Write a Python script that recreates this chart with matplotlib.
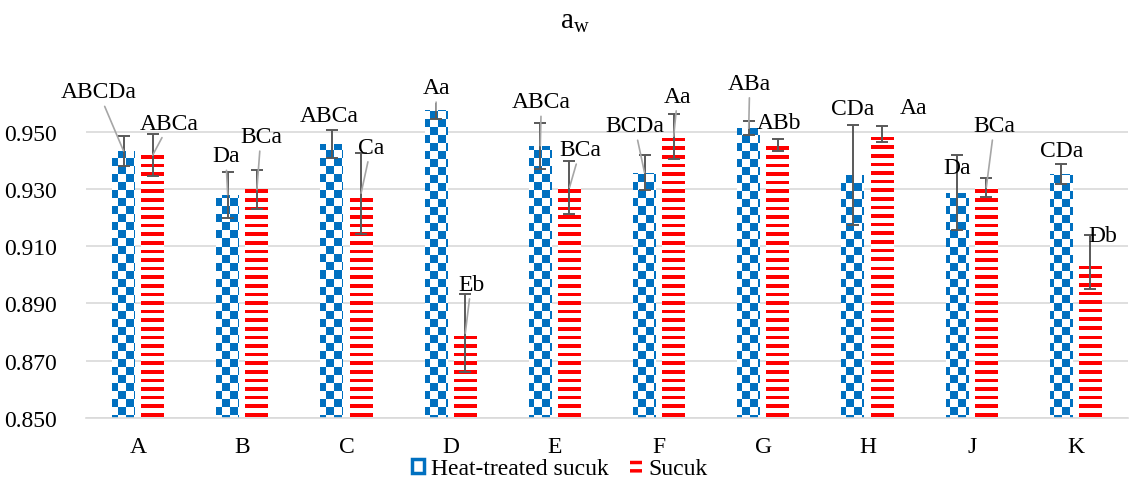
import numpy as np
import matplotlib
matplotlib.use("Agg")
import matplotlib.pyplot as plt
from matplotlib.patches import Patch

plt.rcParams['font.family'] = ['Liberation Serif', 'DejaVu Serif']
plt.rcParams['mathtext.fontset'] = 'custom'
plt.rcParams['mathtext.rm'] = 'Liberation Serif'
plt.rcParams['mathtext.it'] = 'Liberation Serif'

# data
categories = ['A', 'B', 'C', 'D', 'E', 'F', 'G', 'H', 'J', 'K']
heat = [0.9433, 0.9280, 0.9457, 0.9574, 0.9451, 0.9357, 0.9512, 0.9348, 0.9287, 0.9352]
heat_err = [0.0052, 0.0080, 0.0050, 0.0030, 0.0080, 0.0060, 0.0024, 0.0175, 0.0132, 0.0035]
sucuk = [0.9418, 0.9298, 0.9285, 0.8796, 0.9305, 0.9484, 0.9453, 0.9492, 0.9305, 0.9045]
sucuk_err = [0.0073, 0.0068, 0.0142, 0.0137, 0.0093, 0.0078, 0.0021, 0.0027, 0.0032, 0.0094]
heat_labels = ['ABCDa', 'Da', 'ABCa', 'Aa', 'ABCa', 'BCDa', 'ABa', 'CDa', 'Da', 'CDa']
sucuk_labels = ['ABCa', 'BCa', 'Ca', 'Eb', 'BCa', 'Aa', 'ABb', 'Aa', 'BCa', 'Db']

# label placement (pixel offsets from bar top) and leader line flags
heat_off = [(-25, 59), (-2, 39), (-3, 28), (0, 23), (1, 44), (-10, 47), (1, 45), (0, 67), (0, 25), (0, 24)]
sucuk_off = [(17, 32), (4, 53), (10, 46), (6, 49), (11, 38), (4, 40), (1, 23), (31, 26), (8, 62), (12, 26)]
heat_lead = [1, 1, 0, 1, 1, 1, 1, 0, 0, 0]
sucuk_lead = [1, 1, 1, 1, 1, 1, 0, 0, 1, 0]

blue = '#0070C0'
red = '#FF0000'

W, H = 1129, 485
fig = plt.figure(figsize=(W / 100, H / 100), dpi=100)
ax = fig.add_axes([86 / W, 1 - 419 / H, 1042 / W, 315 / H])

x = np.arange(len(categories))
bw = 0.22
off = 0.14

hb = ax.bar(x - off, np.array(heat) - 0.85, bw, bottom=0.85, facecolor='none', edgecolor='none', zorder=2)
sb = ax.bar(x + off, np.array(sucuk) - 0.85, bw, bottom=0.85, facecolor='none', edgecolor='none', zorder=2)

# pattern textures in axes pixel space
aw, ah = 1042, 315
yy, xx = np.mgrid[0:ah, 0:aw]
chk = ((yy // 8) + (xx // 8)) % 2 == 0
checker = np.ones((ah, aw, 3))
checker[chk] = np.array([0, 112, 192]) / 255
stp = (yy % 8.6) < 3.5
stripes = np.ones((ah, aw, 3))
stripes[stp] = np.array([1.0, 0, 0])

for bars, tex in [(hb, checker), (sb, stripes)]:
    for b in bars:
        im = ax.imshow(tex, extent=[0, 1, 0, 1], transform=ax.transAxes,
                       interpolation='nearest', aspect='auto', zorder=2)
        im.set_clip_path(b)

ax.errorbar(x - off, heat, yerr=heat_err, fmt='none', ecolor='#595959',
            elinewidth=1.4, capsize=4, capthick=1.4, zorder=4)
ax.errorbar(x + off, sucuk, yerr=sucuk_err, fmt='none', ecolor='#595959',
            elinewidth=1.4, capsize=4, capthick=1.4, zorder=4)

for xs, vals, labs, offs, leads in [(x - off, heat, heat_labels, heat_off, heat_lead),
                                     (x + off, sucuk, sucuk_labels, sucuk_off, sucuk_lead)]:
    for xi, v, lab, (dx, dy), ld in zip(xs, vals, labs, offs, leads):
        ap = dict(arrowstyle='-', color='#a6a6a6', lw=1.2, shrinkA=1, shrinkB=0) if ld else None
        ax.annotate(lab, xy=(xi, v), xytext=(dx, dy), textcoords='offset pixels',
                    ha='center', va='center', fontsize=17, color='#000000',
                    arrowprops=ap, annotation_clip=False, zorder=5)

ax.set_xlim(-0.5, len(categories) - 0.5)
ax.set_ylim(0.85, 0.96)
ax.set_yticks(np.arange(0.85, 0.951, 0.02))
ax.set_yticklabels(['%.3f' % t for t in np.arange(0.85, 0.951, 0.02)])
ax.set_xticks(x)
ax.set_xticklabels(categories)
ax.tick_params(length=0, labelsize=17, pad=13)
ax.tick_params(axis='y', pad=21)
ax.grid(axis='y', color='#d9d9d9', lw=1.2, zorder=0)
ax.set_axisbelow(True)
for s in ['top', 'right', 'left']:
    ax.spines[s].set_visible(False)
ax.spines['bottom'].set_color('#d9d9d9')
ax.spines['bottom'].set_linewidth(1.2)

fig.text(575 / W, 1 - 22 / H, r'a$_{\mathrm{w}}$', ha='center', va='center', fontsize=21)

handles = [Patch(facecolor='white', edgecolor=blue, linewidth=2.5),
           Patch(facecolor='white', edgecolor=red, hatch='--', linewidth=0)]
plt.rcParams['hatch.linewidth'] = 2.5
fig.legend(handles, ['Heat-treated sucuk', 'Sucuk'], loc='center',
           bbox_to_anchor=(560 / W, 1 - 470 / H), ncol=2, frameon=False,
           fontsize=17, handlelength=0.5, handleheight=0.5, handletextpad=0.3,
           columnspacing=0.9, borderpad=0)

fig.savefig('out.png', dpi=100)
